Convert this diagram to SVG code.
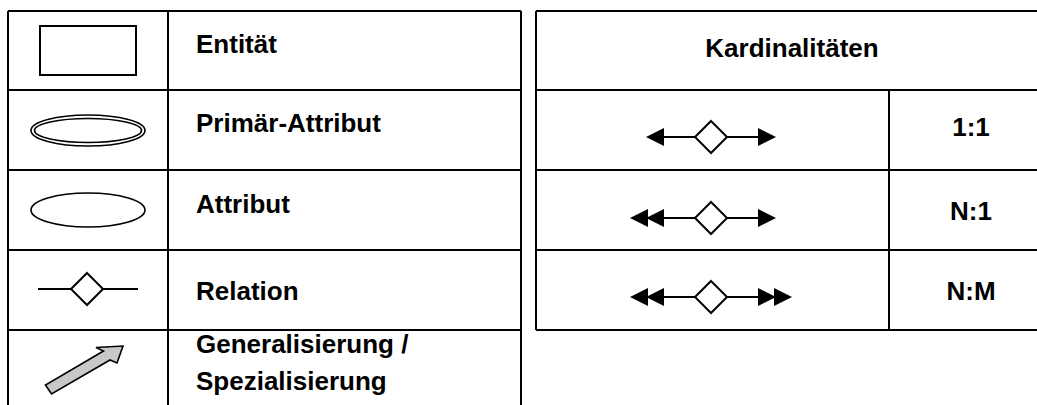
<svg xmlns="http://www.w3.org/2000/svg" width="1037" height="405" viewBox="0 0 1037 405">
  <style>
    .grid { stroke: #000; stroke-width: 2; fill: none; }
    .shape { stroke: #000; stroke-width: 2; fill: #fff; }
    .thin { stroke: #000; stroke-width: 1.6; fill: none; }
    .label { font-family: "Liberation Sans", Arial, sans-serif; font-weight: bold; font-size: 26px; fill: #000; }
    .mid { text-anchor: middle; }
    .head { fill: #000; stroke: none; }
  </style>
  <defs>
    <!-- arrowhead pointing right, tip at origin -->
    <path id="hr" class="head" d="M0,0 L-18,-9 L-18,9 Z"/>
    <!-- arrowhead pointing left, tip at origin -->
    <path id="hl" class="head" d="M0,0 L18,-9 L18,9 Z"/>
    <!-- relation diamond, centred at origin -->
    <path id="dia" class="shape" d="M0,-16 L16,0 L0,16 L-16,0 Z"/>
  </defs>

  <!-- legend table: symbols -->
  <g id="legend-grid">
    <path class="grid" d="M8,11 V405 M168,11 V405 M521,11 V405 M8,11 H521 M8,90 H521 M8,170 H521 M8,250 H521 M8,330 H521"/>
  </g>

  <g id="entity">
    <rect class="shape" x="40" y="26" width="96" height="49"/>
    <text class="label" x="196" y="53">Entität</text>
  </g>

  <g id="primary-attribute">
    <ellipse class="thin" cx="88" cy="130.5" rx="57" ry="15.5"/>
    <ellipse class="thin" cx="88" cy="130.5" rx="53.5" ry="12"/>
    <text class="label" x="196" y="132">Primär-Attribut</text>
  </g>

  <g id="attribute">
    <ellipse class="thin" cx="88" cy="210" rx="57" ry="17"/>
    <text class="label" x="196" y="213">Attribut</text>
  </g>

  <g id="relation">
    <path class="grid" d="M38,289 H138"/>
    <use href="#dia" x="87" y="289"/>
    <text class="label" x="196" y="300">Relation</text>
  </g>

  <g id="generalization">
    <polygon points="45.5,385 51.5,394 110,360 117,363 123,346 96,347.5 103.5,351" fill="#c8c8c8" stroke="#000" stroke-width="1.6" stroke-linejoin="miter"/>
    <text class="label" x="196" y="353">Generalisierung /</text>
    <text class="label" x="196" y="390">Spezialisierung</text>
  </g>

  <!-- cardinality table -->
  <g id="cardinality-grid">
    <path class="grid" d="M536,11 V330 M889,90 V330 M536,11 H1040 M536,90 H1040 M536,170 H1040 M536,250 H1040 M536,330 H1040"/>
    <text class="label mid" x="792" y="57">Kardinalitäten</text>
  </g>

  <g id="connectors">
    <!-- 1:1 -->
    <path class="grid" d="M660,137 H762"/>
    <use href="#hl" x="646" y="137"/>
    <use href="#hr" x="776" y="137"/>
    <!-- N:1 -->
    <path class="grid" d="M660,218 H762"/>
    <use href="#hl" x="630" y="218"/>
    <use href="#hl" x="646" y="218"/>
    <use href="#hr" x="776" y="218"/>
    <!-- N:M -->
    <path class="grid" d="M660,297 H762"/>
    <use href="#hl" x="630" y="297"/>
    <use href="#hl" x="646" y="297"/>
    <use href="#hr" x="776" y="297"/>
    <use href="#hr" x="792" y="297"/>
  </g>

  <g id="card-1-1">
    <use href="#dia" x="711" y="137"/>
    <text class="label mid" x="971" y="136">1:1</text>
  </g>
  <g id="card-n-1">
    <use href="#dia" x="711" y="218"/>
    <text class="label mid" x="971" y="220">N:1</text>
  </g>
  <g id="card-n-m">
    <use href="#dia" x="711" y="297"/>
    <text class="label mid" x="971" y="300">N:M</text>
  </g>
</svg>
